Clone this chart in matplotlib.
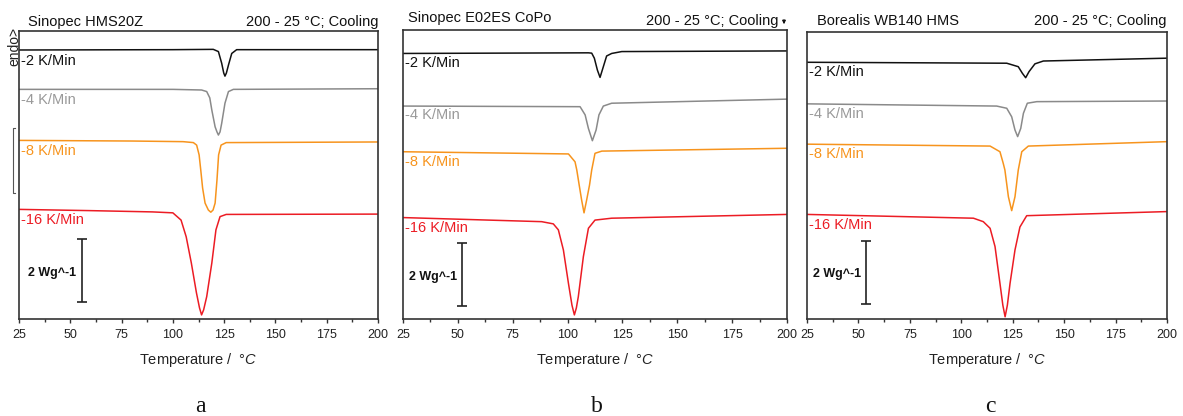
import matplotlib.pyplot as plt

plt.rcParams['font.family'] = ['Liberation Sans', 'DejaVu Sans']
plt.rcParams['mathtext.fontset'] = 'custom'
plt.rcParams['mathtext.rm'] = 'Liberation Sans'
plt.rcParams['mathtext.it'] = 'Liberation Sans:italic'

# ---- data (temperature in C, heat flow in W/g, curves offset) ----
rates = ["-2 K/Min", "-4 K/Min", "-8 K/Min", "-16 K/Min"]
colors = ["#111111", "#8a8a8a", "#f7941d", "#ec1c24"]
label_colors = ["#111111", "#999999", "#f7941d", "#ec1c24"]

# a: Sinopec HMS20Z
hms_t2 = [25, 100, 119.7, 122.2, 123.8, 124.8, 125.4, 126.1, 127.1, 128.7, 131.1, 200]
hms_v2 = [8.54, 8.55, 8.56, 8.49, 8.12, 7.81, 7.71, 7.81, 8.06, 8.43, 8.55, 8.55]
hms_t4 = [25, 100, 114, 116.5, 118, 119, 120.6, 121.5, 122.2, 123, 123.8, 125.4, 127.1, 129.5, 200]
hms_v4 = [7.29, 7.29, 7.27, 7.22, 7.02, 6.63, 6.10, 5.94, 5.84, 5.94, 6.21, 6.85, 7.22, 7.29, 7.31]
hms_t8 = [25, 80, 105, 110, 111.6, 112.8, 113.6, 114.5, 115.7, 117.3, 118.5, 119.6, 120.6, 121.5, 122.3, 123.5, 126, 200]
hms_v8 = [5.67, 5.65, 5.63, 5.60, 5.52, 5.21, 4.73, 4.16, 3.68, 3.46, 3.39, 3.46, 3.68, 4.41, 5.21, 5.52, 5.60, 5.62]
hms_t16 = [25, 60, 90, 100, 104, 106.5, 109, 111.5, 113, 114, 115, 116.5, 119, 121, 123, 126, 200]
hms_v16 = [3.48, 3.44, 3.40, 3.37, 3.14, 2.61, 1.78, 0.83, 0.35, 0.13, 0.29, 0.71, 1.78, 2.83, 3.25, 3.32, 3.33]

# b: Sinopec E02ES CoPo
cop_t2 = [25, 109.5, 111, 112.2, 113.6, 114.8, 116.3, 117.8, 120.1, 124.7, 200]
cop_v2 = [8.43, 8.45, 8.44, 8.28, 7.90, 7.67, 8.01, 8.35, 8.43, 8.49, 8.51]
cop_t4 = [25, 105.7, 108, 109.5, 111.3, 113, 114.3, 116.3, 120.1, 200]
cop_v4 = [6.76, 6.74, 6.48, 6.05, 5.66, 6.00, 6.48, 6.76, 6.85, 6.98]
cop_t8 = [25, 100.4, 103.4, 104.2, 105.3, 106.4, 107.5, 108.7, 110, 111, 112.5, 115.6, 200]
cop_v8 = [5.31, 5.24, 4.99, 4.73, 4.25, 3.78, 3.37, 3.78, 4.25, 4.73, 5.26, 5.33, 5.42]
cop_t16 = [25, 88.2, 93.5, 95.8, 98.1, 100.4, 102, 103.1, 104, 104.9, 107.2, 109.5, 112.5, 120.1, 200]
cop_v16 = [3.22, 3.09, 3.02, 2.83, 2.19, 1.13, 0.44, 0.13, 0.35, 0.71, 1.98, 2.88, 3.14, 3.20, 3.32]

# c: Borealis WB140 HMS
bor_t2 = [25, 122.1, 127.7, 129.7, 131.3, 132.9, 135.8, 139.9, 200]
bor_v2 = [8.15, 8.12, 8.01, 7.80, 7.66, 7.85, 8.10, 8.19, 8.28]
bor_t4 = [25, 117.2, 122.1, 124.5, 126.1, 127.4, 128.9, 130.2, 132.1, 136.7, 200]
bor_v4 = [6.83, 6.76, 6.69, 6.42, 6.00, 5.79, 6.05, 6.53, 6.85, 6.90, 6.92]
bor_t8 = [25, 114, 118.8, 120.4, 121.2, 122.9, 124.5, 126.1, 127.7, 129.4, 132.6, 200]
bor_v8 = [5.55, 5.49, 5.31, 4.94, 4.73, 3.88, 3.44, 3.88, 4.73, 5.31, 5.49, 5.63]
bor_t16 = [25, 105.9, 110.7, 114, 116.4, 118.8, 120.2, 121.3, 122.4, 123.7, 126.1, 128.5, 131.8, 200]
bor_v16 = [3.32, 3.20, 3.09, 2.88, 2.30, 1.13, 0.44, 0.07, 0.44, 1.13, 2.19, 2.92, 3.28, 3.41]

titles = ["Sinopec HMS20Z", "Sinopec E02ES CoPo", "Borealis WB140 HMS"]
condition = "200 - 25 °C; Cooling"
letters = ["a", "b", "c"]
xticks = [25, 50, 75, 100, 125, 150, 175, 200]

W, H = 1183, 416
fig = plt.figure(figsize=(W / 100, H / 100), dpi=100)

def fx(px):
    return px / W

def fy(py):
    return 1 - py / H

panels = [
    dict(box=(19, 31, 378, 319), curves=[(hms_t2, hms_v2), (hms_t4, hms_v4), (hms_t8, hms_v8), (hms_t16, hms_v16)],
         lab_y=[8.06, 6.83, 5.21, 3.01], bar=(55.6, 1.54), bar_lab=(53.0, 1.37),
         title_xy=(28, 26), cond_xy=(378, 26), letter_x=200),
    dict(box=(403, 30, 787, 319), curves=[(cop_t2, cop_v2), (cop_t4, cop_v4), (cop_t8, cop_v8), (cop_t16, cop_v16)],
         lab_y=[7.99, 6.34, 4.87, 2.75], bar=(51.8, 1.41), bar_lab=(49.5, 1.24),
         title_xy=(408, 22), cond_xy=(778, 25), letter_x=597),
    dict(box=(807, 32, 1167, 319), curves=[(bor_t2, bor_v2), (bor_t4, bor_v4), (bor_t8, bor_v8), (bor_t16, bor_v16)],
         lab_y=[7.71, 6.39, 5.10, 2.85], bar=(53.5, 1.47), bar_lab=(51.1, 1.32),
         title_xy=(817, 25), cond_xy=(1167, 25), letter_x=990),
]

for i, p in enumerate(panels):
    l, t, r, b = p['box']
    ax = fig.add_axes([fx(l), fy(b), (r - l) / W, (b - t) / H])
    for (tt, vv), c in zip(p['curves'], colors):
        ax.plot(tt, vv, color=c, lw=1.1)
    ax.set_xlim(25, 200)
    ax.set_ylim(0, (b - t) / 31.5)
    ax.set_yticks([])
    ax.set_xticks(xticks)
    ax.set_xticks([x + 12.5 for x in xticks[:-1]], minor=True)
    ax.tick_params(axis='x', which='major', direction='out', length=3, width=1, pad=4.5,
                   labelsize=9, colors='#333333', labelcolor='#222222')
    ax.tick_params(axis='x', which='minor', direction='out', length=2, width=1, colors='#333333')
    for s in ax.spines.values():
        s.set_color('#333333')
        s.set_linewidth(1.2)
    ax.set_xlabel(r"Temperature /  °$\it{C}$", fontsize=10.5, color='#222222')
    ax.xaxis.set_label_coords(0.5, -0.11)

    for lab, yv, c in zip(rates, p['lab_y'], label_colors):
        ax.text(0.005, yv, lab, transform=ax.get_yaxis_transform(), color=c,
                fontsize=10.5, ha='left', va='baseline')

    # 2 W/g scale bar
    bx, by = p['bar']
    ax.errorbar([bx], [by], yerr=[1], fmt='none', ecolor='#222222', elinewidth=1.2,
                capsize=3.5, capthick=1.2)
    ax.text(p['bar_lab'][0], p['bar_lab'][1], "2 Wg^-1", fontsize=9, fontweight='bold',
            ha='right', va='baseline', color='#111111')

    fig.text(fx(p['title_xy'][0]), fy(p['title_xy'][1]), titles[i], fontsize=10.5,
             ha='left', va='baseline', color='#111111')
    fig.text(fx(p['cond_xy'][0]), fy(p['cond_xy'][1]), condition, fontsize=10.5,
             ha='right', va='baseline', color='#111111')
    fig.text(fx(p['letter_x']), fy(412), letters[i], family='Liberation Serif',
             fontsize=17, ha='center', va='baseline', color='#111111')

    if i == 1:
        # small arrow after the condition text in panel b
        ax.annotate("", xy=(fx(784), fy(27)), xytext=(fx(784), fy(17)), xycoords='figure fraction',
                    annotation_clip=False,
                    arrowprops=dict(arrowstyle='-|>', color='#111111', lw=0.8, mutation_scale=5))

# leftovers from the original figure
fig.text(fx(14.5), fy(47), "endo>", rotation=90, fontsize=10, ha='center', va='center', color='#222222')
fig.add_artist(plt.Line2D([fx(15), fx(12.7), fx(12.7), fx(15)], [fy(128), fy(128), fy(193), fy(193)],
                          color='#555555', lw=0.8))

fig.savefig("out.png", dpi=100)
